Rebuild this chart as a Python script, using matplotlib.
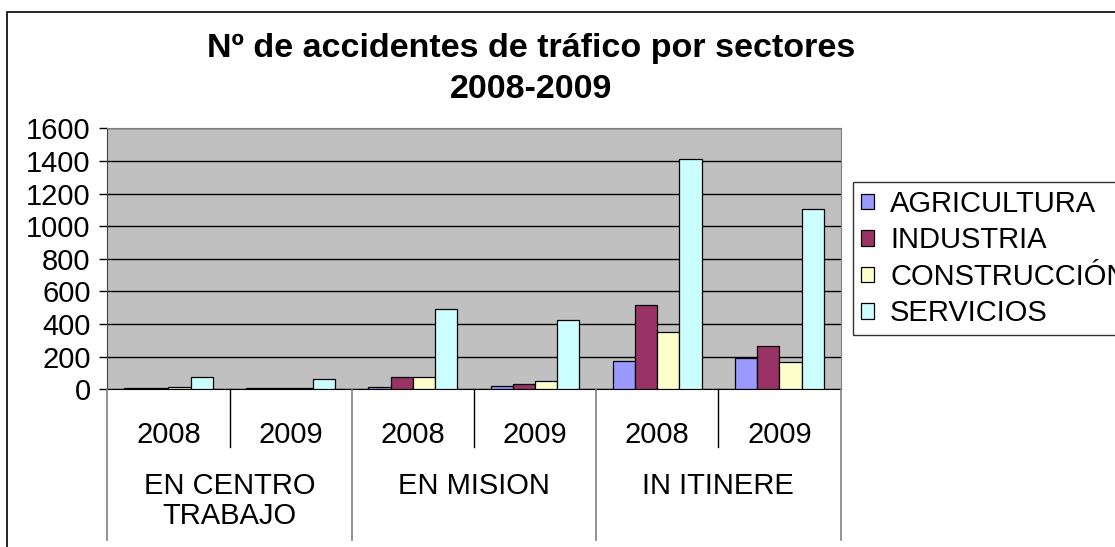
import matplotlib
matplotlib.use("Agg")
import matplotlib.pyplot as plt
from matplotlib.patches import Rectangle
from matplotlib.lines import Line2D
from matplotlib.transforms import blended_transform_factory
import numpy as np

plt.rcParams['font.family'] = ['Liberation Sans', 'DejaVu Sans']

# Data
groups = ["EN CENTRO\nTRABAJO", "EN MISION", "IN ITINERE"]
years = ["2008", "2009"]
sectors = ["AGRICULTURA", "INDUSTRIA", "CONSTRUCCIÓN", "SERVICIOS"]
agricultura = [6, 5, 14, 23, 176, 190]
industria = [8, 6, 74, 35, 515, 266]
construccion = [16, 7, 73, 51, 353, 170]
servicios = [75, 61, 494, 423, 1410, 1107]
yticks = list(range(0, 1601, 200))

series = [agricultura, industria, construccion, servicios]
colors = ["#9999FF", "#993366", "#FFFFCC", "#CCFFFF"]

W, H = 1115, 547
fig = plt.figure(figsize=(W / 100, H / 100), dpi=100)
fig.patch.set_facecolor("white")


def fx(px):
    return px / W


def fy(py):
    return 1 - py / H


# outer chart frame (runs past the right and bottom edges)
fig.patches.append(Rectangle((fx(7), fy(600)), fx(1200), fy(12) - fy(600),
                             transform=fig.transFigure, fill=False,
                             edgecolor="black", linewidth=1.2))

left, right, top, bottom = 107.3, 840.5, 128.3, 389.3
ax = fig.add_axes([fx(left), fy(bottom), fx(right - left), fy(top) - fy(bottom)])
ax.set_facecolor("#C0C0C0")

n_cat = len(groups) * len(years)
x = np.arange(n_cat)
bw = 0.182
for i, (vals, col, name) in enumerate(zip(series, colors, sectors)):
    ax.bar(x + (i - 1.5) * bw, vals, width=bw, color=col, edgecolor="black",
           linewidth=0.9, label=name, zorder=3)

ax.set_xlim(-0.5, n_cat - 0.5)
ax.set_ylim(0, 1600)
ax.set_yticks(yticks)
ax.yaxis.grid(True, color="black", linewidth=1.0, zorder=1)
ax.set_axisbelow(True)
ax.tick_params(axis="y", labelsize=21, length=6, width=1, pad=6, direction="out")
ax.set_xticks([])
for s in ["top", "right"]:
    ax.spines[s].set_color("#808080")
ax.spines["left"].set_color("#404040")
ax.spines["bottom"].set_color("black")

# two-level category axis: years, then groups
tr = blended_transform_factory(ax.transData, fig.transFigure)
for i in range(n_cat):
    ax.text(i, fy(435), years[i % 2], transform=tr, ha="center", va="center",
            fontsize=21)
for g, name in enumerate(groups):
    xc = 2 * g + 0.5
    ax.text(xc, fy(471.5), name, transform=tr, ha="center", va="top",
            fontsize=21, linespacing=1.13)

# group separators
for b in [-0.5, 1.5, 3.5, 5.5]:
    fig.add_artist(Line2D([b, b], [fy(bottom), fy(540)], transform=tr,
                          color="#808080", linewidth=1.2))
# year separators
for b in [0.5, 2.5, 4.5]:
    fig.add_artist(Line2D([b, b], [fy(bottom), fy(447)], transform=tr,
                          color="black", linewidth=1.0))

fig.text(fx(531), fy(49), "Nº de accidentes de tráfico por sectores",
         ha="center", va="center", fontsize=24.5, fontweight="bold")
fig.text(fx(531), fy(89.5), "2008-2009",
         ha="center", va="center", fontsize=24.5, fontweight="bold")

leg = fig.legend(loc="upper left", bbox_to_anchor=(fx(852.7), fy(181.7)),
                 bbox_transform=fig.transFigure, fontsize=21,
                 handlelength=0.45, handleheight=0.45, handletextpad=0.55,
                 labelspacing=0.29, borderpad=0.28, borderaxespad=0,
                 frameon=True, fancybox=False, edgecolor="black")
leg.get_frame().set_linewidth(1.0)

fig.savefig("out.png", dpi=100)
